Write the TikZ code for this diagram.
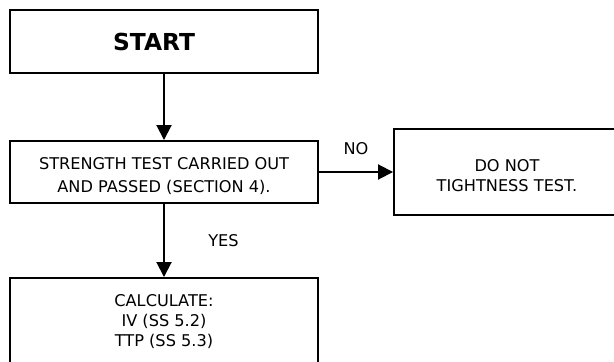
\documentclass[tikz,border=0pt]{standalone}
\usepackage{fontspec}
\setmainfont{DejaVu Sans}
\usetikzlibrary{arrows.meta}
\begin{document}
\begin{tikzpicture}[>={Triangle[length=0.3cm,width=0.3cm]},line width=1.1pt,line join=miter,
    font=\fontsize{9.2}{11.5}\selectfont,
    box/.style={draw,align=center,inner sep=0pt}]
            \useasboundingbox (0,0) rectangle (12.28,7.22);
            \node[box,minimum width=6.16cm,minimum height=1.26cm,font=\fontsize{13.3}{16}\selectfont\bfseries] (start) at (3.28,6.39) {START\hspace{0.4cm}};
            \node[box,minimum width=6.16cm,minimum height=1.24cm,text height=24pt,font=\fontsize{9.2}{13}\selectfont] (test) at (3.28,3.78) {STRENGTH TEST CARRIED OUT\\AND PASSED (SECTION 4).};
            \node[box,minimum width=4.52cm,minimum height=1.72cm,text height=22.5pt] (notest) at (10.14,3.78) {DO NOT\\TIGHTNESS TEST.};
            \node[box,minimum width=6.16cm,minimum height=1.74cm] (calc) at (3.28,0.79) {CALCULATE:\\IV (SS 5.2)\\TTP (SS 5.3)};
            \draw[->] (start) -- (test);
            \draw[->] (test) -- node[above=0.2cm]{NO} (notest);
            \draw[->] (test) -- node[right=0.75cm]{YES} (calc);
        \end{tikzpicture}
\end{document}
